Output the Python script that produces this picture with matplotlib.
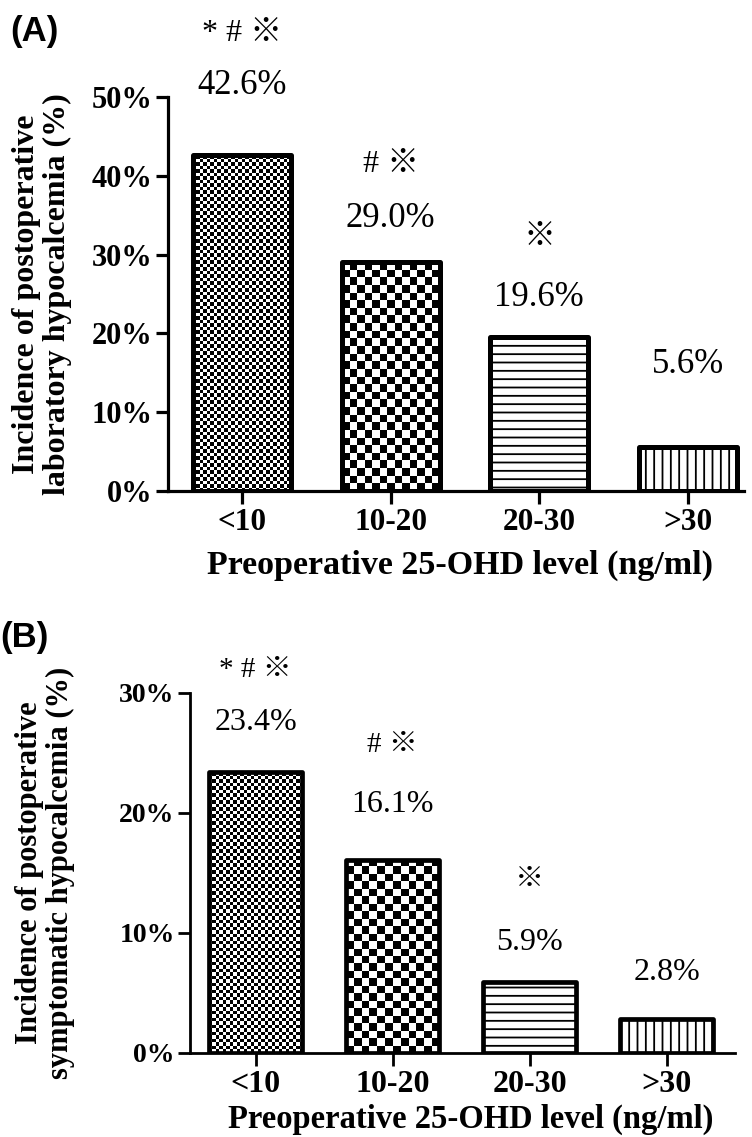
import matplotlib
matplotlib.use('Agg')

import matplotlib.pyplot as plt
import numpy as np

# data
groups = ['<10', '10-20', '20-30', '>30']
lab_rates = [42.6, 29.0, 19.6, 5.6]
sym_rates = [23.4, 16.1, 5.9, 2.8]
marks = ['* # ※', '# ※', '※', '']
fills = ['fine', 'coarse', 'hline', 'vline']

SERIF = ['Liberation Serif', 'Noto Sans CJK SC']
plt.rcParams['font.family'] = ['Liberation Serif', 'DejaVu Sans']
plt.rcParams['hatch.linewidth'] = 1.3
plt.rcParams['hatch.color'] = 'black'

fig = plt.figure(figsize=(7.52, 11.37), dpi=100)
fig.patch.set_facecolor('white')


def checker(ax, bar, cell_px):
    x0, y0 = bar.get_x(), bar.get_y()
    w, h = bar.get_width(), bar.get_height()
    p0 = ax.transData.transform((x0, y0))
    p1 = ax.transData.transform((x0 + w, y0 + h))
    nx = max(1, int(round((p1[0] - p0[0]) / cell_px)))
    ny = max(1, int(round((p1[1] - p0[1]) / cell_px)))
    arr = np.add.outer(np.arange(ny), np.arange(nx)) % 2
    im = ax.imshow(arr, cmap='gray', vmin=0, vmax=1, extent=(x0, x0 + w, y0, y0 + h),
                   interpolation='nearest', aspect='auto', zorder=2, origin='lower')
    im.set_clip_path(bar)


def panel(rect, rates, ymax, xlim, width, spine_lw, edge_lw, xtick_fs, ytick_fs,
          val_fs, mark_y, val_y, ylabel, ylab_fs, ylab_x, tag, tag_xy,
          xlab_fs, xlab_y):
    ax = fig.add_axes(rect)
    ax.set_xlim(*xlim)
    ax.set_ylim(0, ymax)
    x = np.arange(len(groups))
    bars = ax.bar(x, rates, width=width, facecolor='white', edgecolor='black',
                  linewidth=edge_lw, zorder=3, joinstyle='round')
    for b, f in zip(bars, fills):
        if f == 'fine':
            b.set_facecolor('none')
            checker(ax, b, 3.5)
        elif f == 'coarse':
            b.set_facecolor('none')
            checker(ax, b, 7.5)
        elif f == 'hline':
            b.set_hatch('--')
        else:
            b.set_hatch('||')
    ax.set_xlim(*xlim)
    ax.set_ylim(0, ymax)

    for s in ['top', 'right']:
        ax.spines[s].set_visible(False)
    for s in ['left', 'bottom']:
        ax.spines[s].set_linewidth(spine_lw)
    ax.set_xticks(x)
    ax.set_xticklabels(groups)
    ax.set_yticks(np.arange(0, ymax + 1, 10))
    ax.set_yticklabels([f'{v:.0f}%' for v in np.arange(0, ymax + 1, 10)])
    ax.tick_params(axis='both', direction='out', width=spine_lw, length=9, pad=2)
    ax.tick_params(axis='x', labelsize=xtick_fs, pad=3)
    ax.tick_params(axis='y', labelsize=ytick_fs)
    for lab in ax.get_xticklabels() + ax.get_yticklabels():
        lab.set_fontweight('bold')

    for i, (m, my, vy, r) in enumerate(zip(marks, mark_y, val_y, rates)):
        if m:
            ax.text(i, my, m, ha='center', va='center', fontsize=val_fs - 2,
                    family=SERIF, clip_on=False)
        ax.text(i, vy, f'{r:.1f}%', ha='center', va='center', fontsize=val_fs,
                family=SERIF, clip_on=False)

    ax.set_ylabel(ylabel, fontsize=ylab_fs, fontweight='bold', linespacing=1.1)
    ax.yaxis.set_label_coords(ylab_x, 0.5)
    fig.text(0.5 + rect[0] / 2, xlab_y, 'Preoperative 25-OHD level (ng/ml)',
             ha='center', va='center', fontsize=xlab_fs, fontweight='bold')
    fig.text(tag_xy[0], tag_xy[1], tag, ha='left', va='center', fontsize=25,
             fontweight='bold', family=['Liberation Sans', 'DejaVu Sans'])
    return ax


# panel A
panel([168 / 752, 1 - 491 / 1137, 576 / 752, 394 / 1137], lab_rates, 50,
      (-0.5, 3.38), 0.66, 2.3, 3.6, 22.5, 22, 25,
      [58.1, 41.4, 32.2, 0], [51.5, 34.6, 24.5, 16.0],
      'Incidence of postoperative\nlaboratory hypocalcemia (%)', 23,
      (72 - 168) / 576, '(A)', (10 / 752, 1 - 31 / 1137), 24.5, 1 - 565 / 1137)

# panel B
panel([190 / 752, 1 - 1053 / 1137, 545 / 752, 360 / 1137], sym_rates, 30,
      (-0.48, 3.5), 0.68, 2.0, 3.4, 23, 20, 23,
      [31.9, 25.7, 14.4, 0], [27.5, 20.7, 9.2, 6.7],
      'Incidence of postoperative\nsymptomatic hypocalcemia (%)', 22,
      (75 - 190) / 545, '(B)', (0 / 752, 1 - 638 / 1137), 23.5, 1 - 1119 / 1137)

fig.savefig('out.png', dpi=100)
